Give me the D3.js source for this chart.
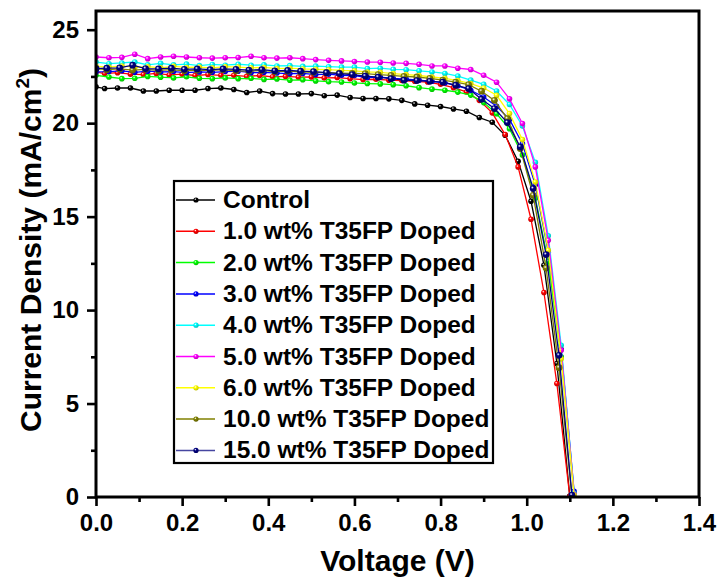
<!DOCTYPE html>
<html>
<head>
<meta charset="utf-8">
<script src="https://cdn.jsdelivr.net/npm/d3@7"></script>
<style>
  body { margin: 0; background: #fff; }
  text { font-family: "Liberation Sans", Arial, sans-serif; font-weight: bold; fill: #000; }
</style>
</head>
<body>
<div id="container"></div>
<script>
// voltage grids (V) used by the different devices
const voltageA = [0, 0.03, 0.06, 0.09, 0.12, 0.15, 0.18, 0.21, 0.24, 0.27, 0.30, 0.33, 0.36, 0.39, 0.42, 0.45, 0.48, 0.51, 0.54, 0.57,
  0.60, 0.63, 0.66, 0.69, 0.72, 0.75, 0.78, 0.81, 0.84, 0.87, 0.90, 0.93, 0.96, 0.99, 1.02, 1.05, 1.08, 1.11];
const voltageB = [0, 0.02, 0.05, 0.08, 0.11, 0.14, 0.17, 0.20, 0.23, 0.26, 0.29, 0.32, 0.35, 0.38, 0.41, 0.44, 0.47, 0.50, 0.53, 0.56,
  0.59, 0.62, 0.65, 0.68, 0.71, 0.74, 0.77, 0.80, 0.83, 0.86, 0.89, 0.92, 0.95, 0.98, 1.01, 1.04, 1.07, 1.10];
const voltageC = [0, 0.025, 0.055, 0.085, 0.115, 0.145, 0.175, 0.205, 0.235, 0.265, 0.295, 0.325, 0.355, 0.385, 0.415, 0.445, 0.475, 0.505, 0.535, 0.565,
  0.595, 0.625, 0.655, 0.685, 0.715, 0.745, 0.775, 0.805, 0.835, 0.865, 0.895, 0.925, 0.955, 0.985, 1.015, 1.045, 1.075, 1.105];

// current density (mA/cm2)
const jControl = [21.94, 21.85, 21.88, 21.88, 21.72, 21.72, 21.76, 21.76, 21.76, 21.85, 21.88, 21.80, 21.64, 21.72, 21.58, 21.56, 21.56, 21.58, 21.47, 21.50,
  21.37, 21.32, 21.32, 21.30, 21.22, 21.03, 20.96, 20.89, 20.76, 20.64, 20.30, 20.05, 19.35, 17.96, 15.82, 12.40, 7.14, 0.05];
const j1 = [22.74, 22.65, 22.70, 22.62, 22.60, 22.66, 22.58, 22.62, 22.55, 22.60, 22.56, 22.56, 22.50, 22.55, 22.48, 22.50, 22.46, 22.47, 22.42, 22.44,
  22.38, 22.33, 22.35, 22.30, 22.28, 22.24, 22.20, 22.08, 21.90, 21.67, 21.22, 20.55, 19.39, 17.66, 14.86, 10.94, 6.07, 0.02];
const j2 = [22.56, 22.47, 22.38, 22.40, 22.50, 22.46, 22.42, 22.48, 22.40, 22.38, 22.42, 22.38, 22.40, 22.34, 22.36, 22.30, 22.32, 22.26, 22.22, 22.20,
  22.15, 22.12, 22.10, 22.06, 22.00, 21.90, 21.82, 21.76, 21.66, 21.50, 21.10, 20.50, 19.70, 18.30, 16.00, 12.60, 7.50, 0.10];
const j3 = [22.74, 22.76, 22.80, 22.72, 22.78, 22.74, 22.76, 22.70, 22.74, 22.72, 22.76, 22.78, 22.70, 22.72, 22.68, 22.65, 22.66, 22.60, 22.62, 22.56,
  22.55, 22.44, 22.46, 22.40, 22.36, 22.30, 22.24, 22.15, 22.00, 21.76, 21.40, 20.90, 20.20, 18.90, 16.70, 13.10, 7.90, 0.30];
const j4 = [23.27, 23.18, 23.22, 23.27, 23.12, 23.20, 23.12, 23.16, 23.08, 23.14, 23.10, 23.15, 23.10, 23.12, 23.06, 23.08, 23.04, 23.05, 23.02, 23.00,
  23.00, 22.92, 22.94, 22.88, 22.86, 22.80, 22.74, 22.66, 22.52, 22.30, 22.08, 21.72, 21.00, 19.85, 17.90, 13.97, 8.12, 0.20];
const j5 = [23.54, 23.50, 23.52, 23.69, 23.45, 23.54, 23.58, 23.54, 23.50, 23.48, 23.50, 23.51, 23.58, 23.50, 23.48, 23.50, 23.45, 23.40, 23.36, 23.33,
  23.30, 23.27, 23.26, 23.22, 23.20, 23.15, 23.06, 23.06, 22.94, 22.87, 22.56, 22.19, 21.30, 19.98, 17.66, 13.73, 7.85, 0.15];
const j6 = [23.04, 23.00, 23.06, 22.98, 23.02, 22.96, 23.04, 22.98, 23.00, 22.96, 23.02, 23.00, 22.96, 22.98, 22.92, 22.94, 22.90, 22.88, 22.86, 22.82,
  22.80, 22.74, 22.72, 22.65, 22.60, 22.55, 22.47, 22.40, 22.28, 22.12, 21.88, 21.49, 20.51, 19.12, 16.85, 13.20, 7.40, 0.10];
const j10 = [22.92, 22.86, 22.90, 22.84, 22.88, 22.82, 22.86, 22.80, 22.84, 22.82, 22.86, 22.80, 22.78, 22.82, 22.76, 22.78, 22.74, 22.72, 22.70, 22.68,
  22.66, 22.65, 22.60, 22.56, 22.50, 22.47, 22.40, 22.30, 22.20, 22.06, 21.71, 21.22, 20.24, 18.64, 16.14, 12.25, 6.92, 0.00];
const j15 = [22.92, 22.94, 22.96, 23.10, 22.92, 22.90, 22.94, 22.88, 22.90, 22.86, 22.90, 22.88, 22.84, 22.86, 22.80, 22.82, 22.78, 22.76, 22.70, 22.65,
  22.60, 22.52, 22.46, 22.38, 22.30, 22.28, 22.24, 22.20, 22.03, 21.85, 21.28, 20.78, 20.03, 18.73, 16.50, 12.97, 7.58, 0.10];

const seriesNames = ["Control", "1.0 wt% T35FP Doped", "2.0 wt% T35FP Doped", "3.0 wt% T35FP Doped", "4.0 wt% T35FP Doped",
  "5.0 wt% T35FP Doped", "6.0 wt% T35FP Doped", "10.0 wt% T35FP Doped", "15.0 wt% T35FP Doped"];
const seriesColors = ["#000000", "#ff0000", "#00ff00", "#0000ff", "#00ffff", "#ff00ff", "#ffff00", "#808000", "#000080"];
const seriesVoltage = [voltageB, voltageB, voltageA, voltageA, voltageA, voltageA, voltageA, voltageC, voltageC];
const seriesCurrent = [jControl, j1, j2, j3, j4, j5, j6, j10, j15];

const xTicks = [0, 0.2, 0.4, 0.6, 0.8, 1.0, 1.2, 1.4];
const xMinorTicks = [0.1, 0.3, 0.5, 0.7, 0.9, 1.1, 1.3];
const yTicks = [0, 5, 10, 15, 20, 25];
const yMinorTicks = [2.5, 7.5, 12.5, 17.5, 22.5];

let width = 718,
  height = 579,
  plot = { left: 96, right: 699, top: 11, bottom: 497 };

var xScale = d3.scaleLinear().domain([0, 1.4]).range([plot.left, plot.right]);
var yScale = d3.scaleLinear().domain([0, 26]).range([plot.bottom, plot.top]);

var svg = d3.select("#container").append("svg")
  .attr("width", width)
  .attr("height", height);

var defs = svg.append("defs");
defs.append("clipPath").attr("id", "clip")
  .append("rect")
  .attr("x", plot.left).attr("y", plot.top)
  .attr("width", plot.right - plot.left)
  .attr("height", plot.bottom - plot.top);

// shaded ball markers
seriesColors.forEach((c, i) => {
  var grad = defs.append("radialGradient").attr("id", "ball" + i)
    .attr("cx", "38%").attr("cy", "35%").attr("r", "65%");
  grad.append("stop").attr("offset", "0%").attr("stop-color", "#ffffff");
  grad.append("stop").attr("offset", "35%").attr("stop-color", c);
  grad.append("stop").attr("offset", "100%").attr("stop-color", d3.color(c).darker(0.8));
});

//------------ AXES ------------
var gX = svg.append("g").attr("transform", "translate(0," + plot.bottom + ")");
gX.call(d3.axisBottom(xScale).tickValues(xTicks).tickSize(9).tickPadding(8).tickFormat(d3.format(".1f")));
var gXm = svg.append("g").attr("transform", "translate(0," + plot.bottom + ")");
gXm.call(d3.axisBottom(xScale).tickValues(xMinorTicks).tickSize(5).tickFormat(""));

var gY = svg.append("g").attr("transform", "translate(" + plot.left + ",0)");
gY.call(d3.axisLeft(yScale).tickValues(yTicks).tickSize(9).tickPadding(8).tickFormat(d3.format("d")));
var gYm = svg.append("g").attr("transform", "translate(" + plot.left + ",0)");
gYm.call(d3.axisLeft(yScale).tickValues(yMinorTicks).tickSize(5).tickFormat(""));

svg.selectAll(".domain").remove();
svg.selectAll(".tick line").attr("stroke", "#000").attr("stroke-width", 2.6);
svg.selectAll(".tick text")
  .style("font-size", "24px")
  .style("font-family", "'Liberation Sans', Arial, sans-serif")
  .style("font-weight", "bold")
  .attr("fill", "#000");

//------------ SERIES ------------
var body = svg.append("g").attr("clip-path", "url(#clip)");
var line = d3.line().x(d => xScale(d[0])).y(d => yScale(d[1]));

seriesNames.forEach((name, i) => {
  var pts = seriesVoltage[i].map((v, k) => [v, seriesCurrent[i][k]]);
  var big = i >= 7;
  body.append("path")
    .datum(pts)
    .attr("d", line)
    .attr("fill", "none")
    .attr("stroke", seriesColors[i])
    .attr("stroke-width", 1.3);
  body.append("g").selectAll("circle").data(pts).join("circle")
    .attr("cx", d => xScale(d[0]))
    .attr("cy", d => yScale(d[1]))
    .attr("r", big ? 3.4 : 2.8)
    .attr("fill", "url(#ball" + i + ")");
});

// frame
svg.append("rect")
  .attr("x", plot.left).attr("y", plot.top)
  .attr("width", plot.right - plot.left)
  .attr("height", plot.bottom - plot.top)
  .attr("fill", "none")
  .attr("stroke", "#000")
  .attr("stroke-width", 3);

//------------ LEGEND ------------
var legend = svg.append("g");
legend.append("rect")
  .attr("x", 174).attr("y", 181)
  .attr("width", 319).attr("height", 282)
  .attr("fill", "#fff")
  .attr("stroke", "#000")
  .attr("stroke-width", 2.2);

seriesNames.forEach((name, i) => {
  var y = 200 + i * 31.3;
  legend.append("line")
    .attr("x1", 176).attr("x2", 215)
    .attr("y1", y).attr("y2", y)
    .attr("stroke", i === 8 ? "#4646a0" : seriesColors[i])
    .attr("stroke-width", 1.5);
  legend.append("circle")
    .attr("cx", 196).attr("cy", y).attr("r", 2.6)
    .attr("fill", "url(#ball" + i + ")");
  legend.append("text")
    .attr("x", 223).attr("y", y + 8)
    .style("font-size", "24.5px")
    .text(name);
});

//------------ TITLES ------------
svg.append("text")
  .attr("x", (plot.left + plot.right) / 2)
  .attr("y", 571)
  .attr("text-anchor", "middle")
  .style("font-size", "30px")
  .text("Voltage (V)");

var yt = svg.append("text")
  .attr("transform", "translate(41," + 250 + ") rotate(-90)")
  .attr("text-anchor", "middle")
  .style("font-size", "30px");
yt.append("tspan").text("Current Density (mA/cm");
yt.append("tspan").attr("dy", -12).style("font-size", "19px").text("2");
yt.append("tspan").attr("dy", 12).text(")");
</script>
</body>
</html>
